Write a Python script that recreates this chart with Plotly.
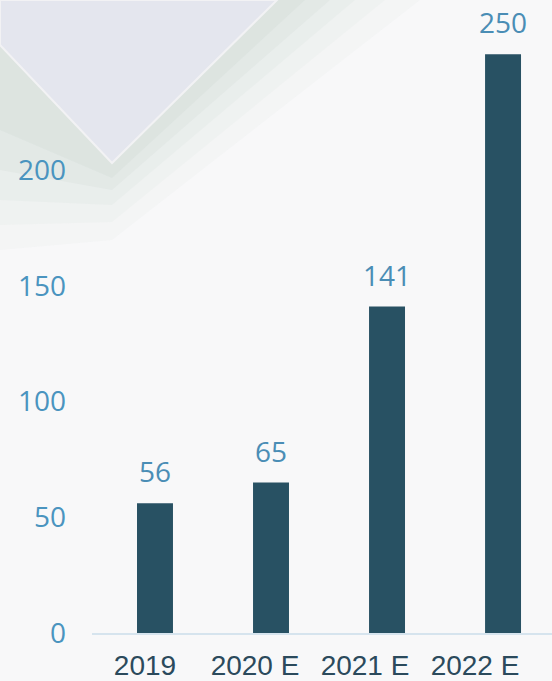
import plotly.graph_objects as go

categories = ["2019", "2020 E", "2021 E", "2022 E"]
values = [56, 65, 141, 250]
y_ticks = [0, 50, 100, 150, 200]

W, H = 552, 681
L, R, T, B = 92, 0, 0, 48
PW, PH = W - L - R, H - T - B


def px(x, y):
    return (x - L) / PW, (H - B - y) / PH


def path(points):
    pts = [px(x, y) for x, y in points]
    return "M " + " L ".join(f"{a:.4f},{b:.4f}" for a, b in pts) + " Z"


idx = list(range(len(categories)))

fig = go.Figure()
fig.add_trace(go.Bar(
    x=idx, y=values,
    marker=dict(color="#285163", line=dict(width=0)),
    width=0.31,
    hoverinfo="skip",
))
# invisible trace carrying the category labels axis
fig.add_trace(go.Scatter(
    x=idx, y=[0] * len(idx), xaxis="x2", mode="markers",
    marker=dict(opacity=0), hoverinfo="skip",
))

annotations = [
    dict(x=i, y=v, text=str(v), showarrow=False, yanchor="bottom", yshift=11,
         font=dict(family="Open Sans", size=28, color="#4a8db5"))
    for i, v in zip(idx, values)
]

shapes = []
shadow_layers = [
    ([(0, 0), (0, 250), (112, 240), (420, 0)], "#eef1f0", 0.4),
    ([(0, 0), (0, 225), (112, 222), (385, 0)], "#e8edeb", 0.4),
    ([(0, 0), (0, 200), (112, 205), (355, 0)], "#e2e8e6", 0.4),
    ([(0, 0), (0, 170), (112, 190), (330, 0)], "#dbe3e1", 0.45),
    ([(0, 0), (0, 130), (112, 178), (305, 0)], "#d4ddda", 0.45),
]
for pts, col, op in shadow_layers:
    shapes.append(dict(type="path", xref="paper", yref="paper", path=path(pts),
                       fillcolor=col, opacity=op, line=dict(width=0), layer="below"))
shapes.append(dict(type="path", xref="paper", yref="paper",
                   path=path([(0, 0), (0, 45), (112, 163), (277, 0)]),
                   fillcolor="#e4e6ee", line=dict(color="#f2f2f4", width=2), layer="below"))

fig.update_layout(
    width=W, height=H,
    margin=dict(l=L, r=R, t=T, b=B),
    paper_bgcolor="#f8f8f9",
    plot_bgcolor="rgba(0,0,0,0)",
    showlegend=False,
    annotations=annotations,
    shapes=shapes,
    xaxis=dict(
        range=[-0.543, 3.422],
        showgrid=False, zeroline=False,
        showline=True, linecolor="#d6e4ee", linewidth=2,
        ticks="", showticklabels=False, automargin=False,
    ),
    xaxis2=dict(
        range=[-0.4818, 3.6998],
        overlaying="x", anchor="y", side="bottom",
        tickvals=idx, ticktext=categories,
        showgrid=False, zeroline=False, showline=False,
        ticks="", automargin=False,
        tickfont=dict(family="Liberation Sans", size=28, color="#2b4a5c"),
        ticklabelstandoff=13,
    ),
    yaxis=dict(
        range=[0, 273.4],
        tickvals=y_ticks,
        showgrid=False, zeroline=False, showline=False,
        ticks="", automargin=False,
        tickfont=dict(family="Open Sans", size=28, color="#4a94bf"),
        ticklabelstandoff=25,
    ),
)

fig.write_html("out.html", config=dict(displayModeBar=False),
               post_script="document.body.style.margin='0';document.body.style.padding='0';")
